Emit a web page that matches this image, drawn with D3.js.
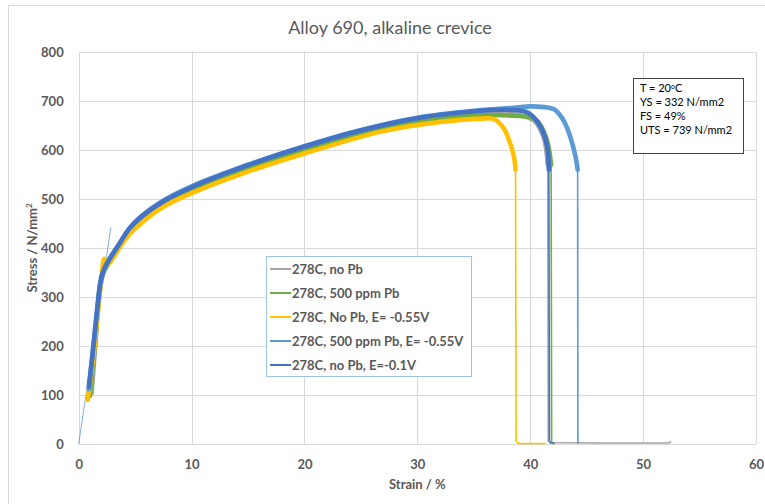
<!DOCTYPE html>
<meta charset="utf-8">
<script src="https://d3js.org/d3.v7.min.js"></script>
<style>
  body { margin: 0; background: #fff; }
  text { font-family: Lato, "Open Sans", sans-serif; fill: #595959; }
</style>
<svg id="chart"></svg>
<script>

// tick values
const xTicks = [0, 10, 20, 30, 40, 50, 60];
const yTicks = [0, 100, 200, 300, 400, 500, 600, 700, 800];

// series names, in legend order
const seriesNames = ["278C, no Pb", "278C, 500 ppm Pb", "278C, No Pb, E= -0.55V",
                     "278C, 500 ppm Pb, E= -0.55V", "278C, no Pb, E=-0.1V"];
const seriesColors = ["#a5a5a5", "#70ad47", "#ffc000", "#5b9bd5", "#4472c4"];

// [strain %, stress N/mm2]: loading part and fracture part
const grayCurve = [[1.15,104],[1.5,210],[1.9,320],[2.3,356],[2.8,374],[3.5,400],[4.5,434],[5.5,456],
  [7.5,490],[10,518],[15,562],[20,601],[25,634],[30,659],[35,672],[38.5,673],[40.3,661],[41.2,625],[41.55,570]];
const grayTail = [[41.55,570],[41.6,6],[41.8,3],[46,2],[50,2],[52.3,2],[52.5,5]];

const greenCurve = [[1.0,98],[1.45,205],[1.9,325],[2.3,356],[2.8,373],[3.5,398],[4.5,432],[5.5,455],
  [7.5,488],[10,516],[15,561],[20,599],[25,633],[30,657],[35,670],[38.5,670],[40.5,662],[41.4,626],[41.85,570]];
const greenTail = [[41.85,570],[41.9,4],[42.0,1],[42.2,1]];

const yellowCurve = [[0.8,90],[1.4,199],[2.0,335],[2.27,378],[2.5,366],[3.0,378],[3.7,404],[4.5,428],[5.5,450],
  [7.5,484],[10,512],[15,556],[20,593],[26.7,637],[30,651],[35.6,664],[36.8,663],[37.6,646],[38.0,628],[38.56,586],[38.7,560]];
const yellowTail = [[38.7,560],[38.75,6],[39.0,1],[41.4,1]];

const lightBlueCurve = [[0.9,112],[1.35,210],[1.7,285],[2.05,342],[2.4,364],[2.8,380],[3.5,405],[4.5,440],[5.5,464],
  [7.5,497],[10,526],[15,570],[20,608],[25,641],[30,666],[35,680],[38.5,686],[40,689],[41,688],[42.1,683],[42.8,666],[43.3,643],[44.0,588],[44.2,560]];
const lightBlueTail = [[44.2,560],[44.22,0]];

const darkBlueCurve = [[0.9,117],[1.3,200],[1.6,267],[2.0,340],[2.35,362],[2.8,380],[3.5,405],[4.5,440],[5.5,463],
  [7.5,495],[10,524],[15,569],[20,607],[25,640],[30,665],[35.6,680],[38,682],[39.8,676],[40.9,648],[41.5,607],[41.65,560]];
const darkBlueTail = [[41.65,560],[41.7,5],[41.8,2],[42.1,2]];

// modulus line
const elasticLine = [[0,0],[2.85,442]];

const curves = [grayCurve, greenCurve, yellowCurve, lightBlueCurve, darkBlueCurve];
const tails = [grayTail, greenTail, yellowTail, lightBlueTail, darkBlueTail];

const infoLines = ["YS = 332 N/mm2", "FS = 49%", "UTS = 739 N/mm2"];

const width = 765, height = 504;
const margin = {left: 78.7, right: 9, top: 52, bottom: 60};

const svg = d3.select("#chart").attr("width", width).attr("height", height);

// chart area border
svg.append("rect")
  .attr("x", 8.5).attr("y", 5.5).attr("width", 770).attr("height", 510)
  .attr("fill", "none").attr("stroke", "#d9d9d9");

const x = d3.scaleLinear().domain([0, 60]).range([margin.left, width - margin.right]);
const y = d3.scaleLinear().domain([0, 800]).range([height - margin.bottom, margin.top]);

// gridlines
svg.append("g").selectAll("line").data(yTicks).join("line")
  .attr("x1", x(0)).attr("x2", x(60))
  .attr("y1", d => Math.round(y(d)) + 0.5).attr("y2", d => Math.round(y(d)) + 0.5)
  .attr("stroke", "#d9d9d9");
svg.append("g").selectAll("line").data(xTicks).join("line")
  .attr("y1", y(0)).attr("y2", y(800))
  .attr("x1", d => Math.round(x(d)) + 0.5).attr("x2", d => Math.round(x(d)) + 0.5)
  .attr("stroke", "#d9d9d9");

// axes (labels only)
const xAxis = svg.append("g")
  .attr("transform", `translate(0,${y(0) + 13})`)
  .call(d3.axisBottom(x).tickValues(xTicks).tickSize(0));
const yAxis = svg.append("g")
  .attr("transform", `translate(${x(0) - 12},0)`)
  .call(d3.axisLeft(y).tickValues(yTicks).tickSize(0));
[xAxis, yAxis].forEach(a => {
  a.select(".domain").remove();
  a.selectAll("text").style("font-size", "13px").style("font-weight", "bold")
    .style("font-family", "Lato").attr("fill", "#595959");
});

// data lines
const thick = d3.line().x(d => x(d[0])).y(d => y(d[1])).curve(d3.curveCatmullRom.alpha(0.5));
const thin = d3.line().x(d => x(d[0])).y(d => y(d[1]));

svg.append("path").datum(elasticLine)
  .attr("d", thin).attr("fill", "none").attr("stroke", "#5b9bd5").attr("stroke-width", 0.8);

curves.forEach((c, i) => {
  svg.append("path").datum(tails[i])
    .attr("d", thin).attr("fill", "none")
    .attr("stroke", seriesColors[i]).attr("stroke-width", 1.6);
  svg.append("path").datum(c)
    .attr("d", thick).attr("fill", "none")
    .attr("stroke", seriesColors[i]).attr("stroke-width", 4.6)
    .attr("stroke-linejoin", "round").attr("stroke-linecap", "round");
});

// title
svg.append("text")
  .attr("x", 390).attr("y", 34).attr("text-anchor", "middle")
  .style("font-size", "18px").text("Alloy 690, alkaline crevice");

// axis titles
svg.append("text")
  .attr("x", (x(0) + x(60)) / 2).attr("y", 489).attr("text-anchor", "middle")
  .style("font-size", "13px").style("font-weight", "bold").text("Strain / %");
const yt = svg.append("text")
  .attr("transform", `translate(37,${(y(0) + y(800)) / 2}) rotate(-90)`)
  .attr("text-anchor", "middle")
  .style("font-size", "13px").style("font-weight", "bold");
yt.append("tspan").text("Stress / N/mm");
yt.append("tspan").attr("dy", -5).style("font-size", "8px").text("2");

// legend
const legend = svg.append("g").attr("transform", "translate(266,256)");
legend.append("rect").attr("x", 0.5).attr("y", 0.5).attr("width", 205).attr("height", 120)
  .attr("fill", "#fff").attr("stroke", "#9dc3e6");
seriesNames.forEach((n, i) => {
  const ly = 13 + i * 24;
  legend.append("line").attr("x1", 4).attr("x2", 25).attr("y1", ly).attr("y2", ly)
    .attr("stroke", seriesColors[i]).attr("stroke-width", 2);
  legend.append("text").attr("x", 26).attr("y", ly + 4.5)
    .style("font-size", "13px").style("font-weight", "bold").text(n);
});

// info box
const info = svg.append("g").attr("transform", "translate(633,78)");
info.append("rect").attr("x", 0.5).attr("y", 0.5).attr("width", 110).attr("height", 75)
  .attr("fill", "#fff").attr("stroke", "#404040");
const t0 = info.append("text").attr("x", 7).attr("y", 14).style("font-size", "11px").style("fill", "#000");
t0.append("tspan").text("T = 20");
t0.append("tspan").attr("dy", -3).style("font-size", "7px").text("o");
t0.append("tspan").attr("dy", 3).text("C");
infoLines.forEach((l, i) => {
  info.append("text").attr("x", 7).attr("y", 28 + i * 14)
    .style("font-size", "11px").style("fill", "#000").text(l);
});

</script>
